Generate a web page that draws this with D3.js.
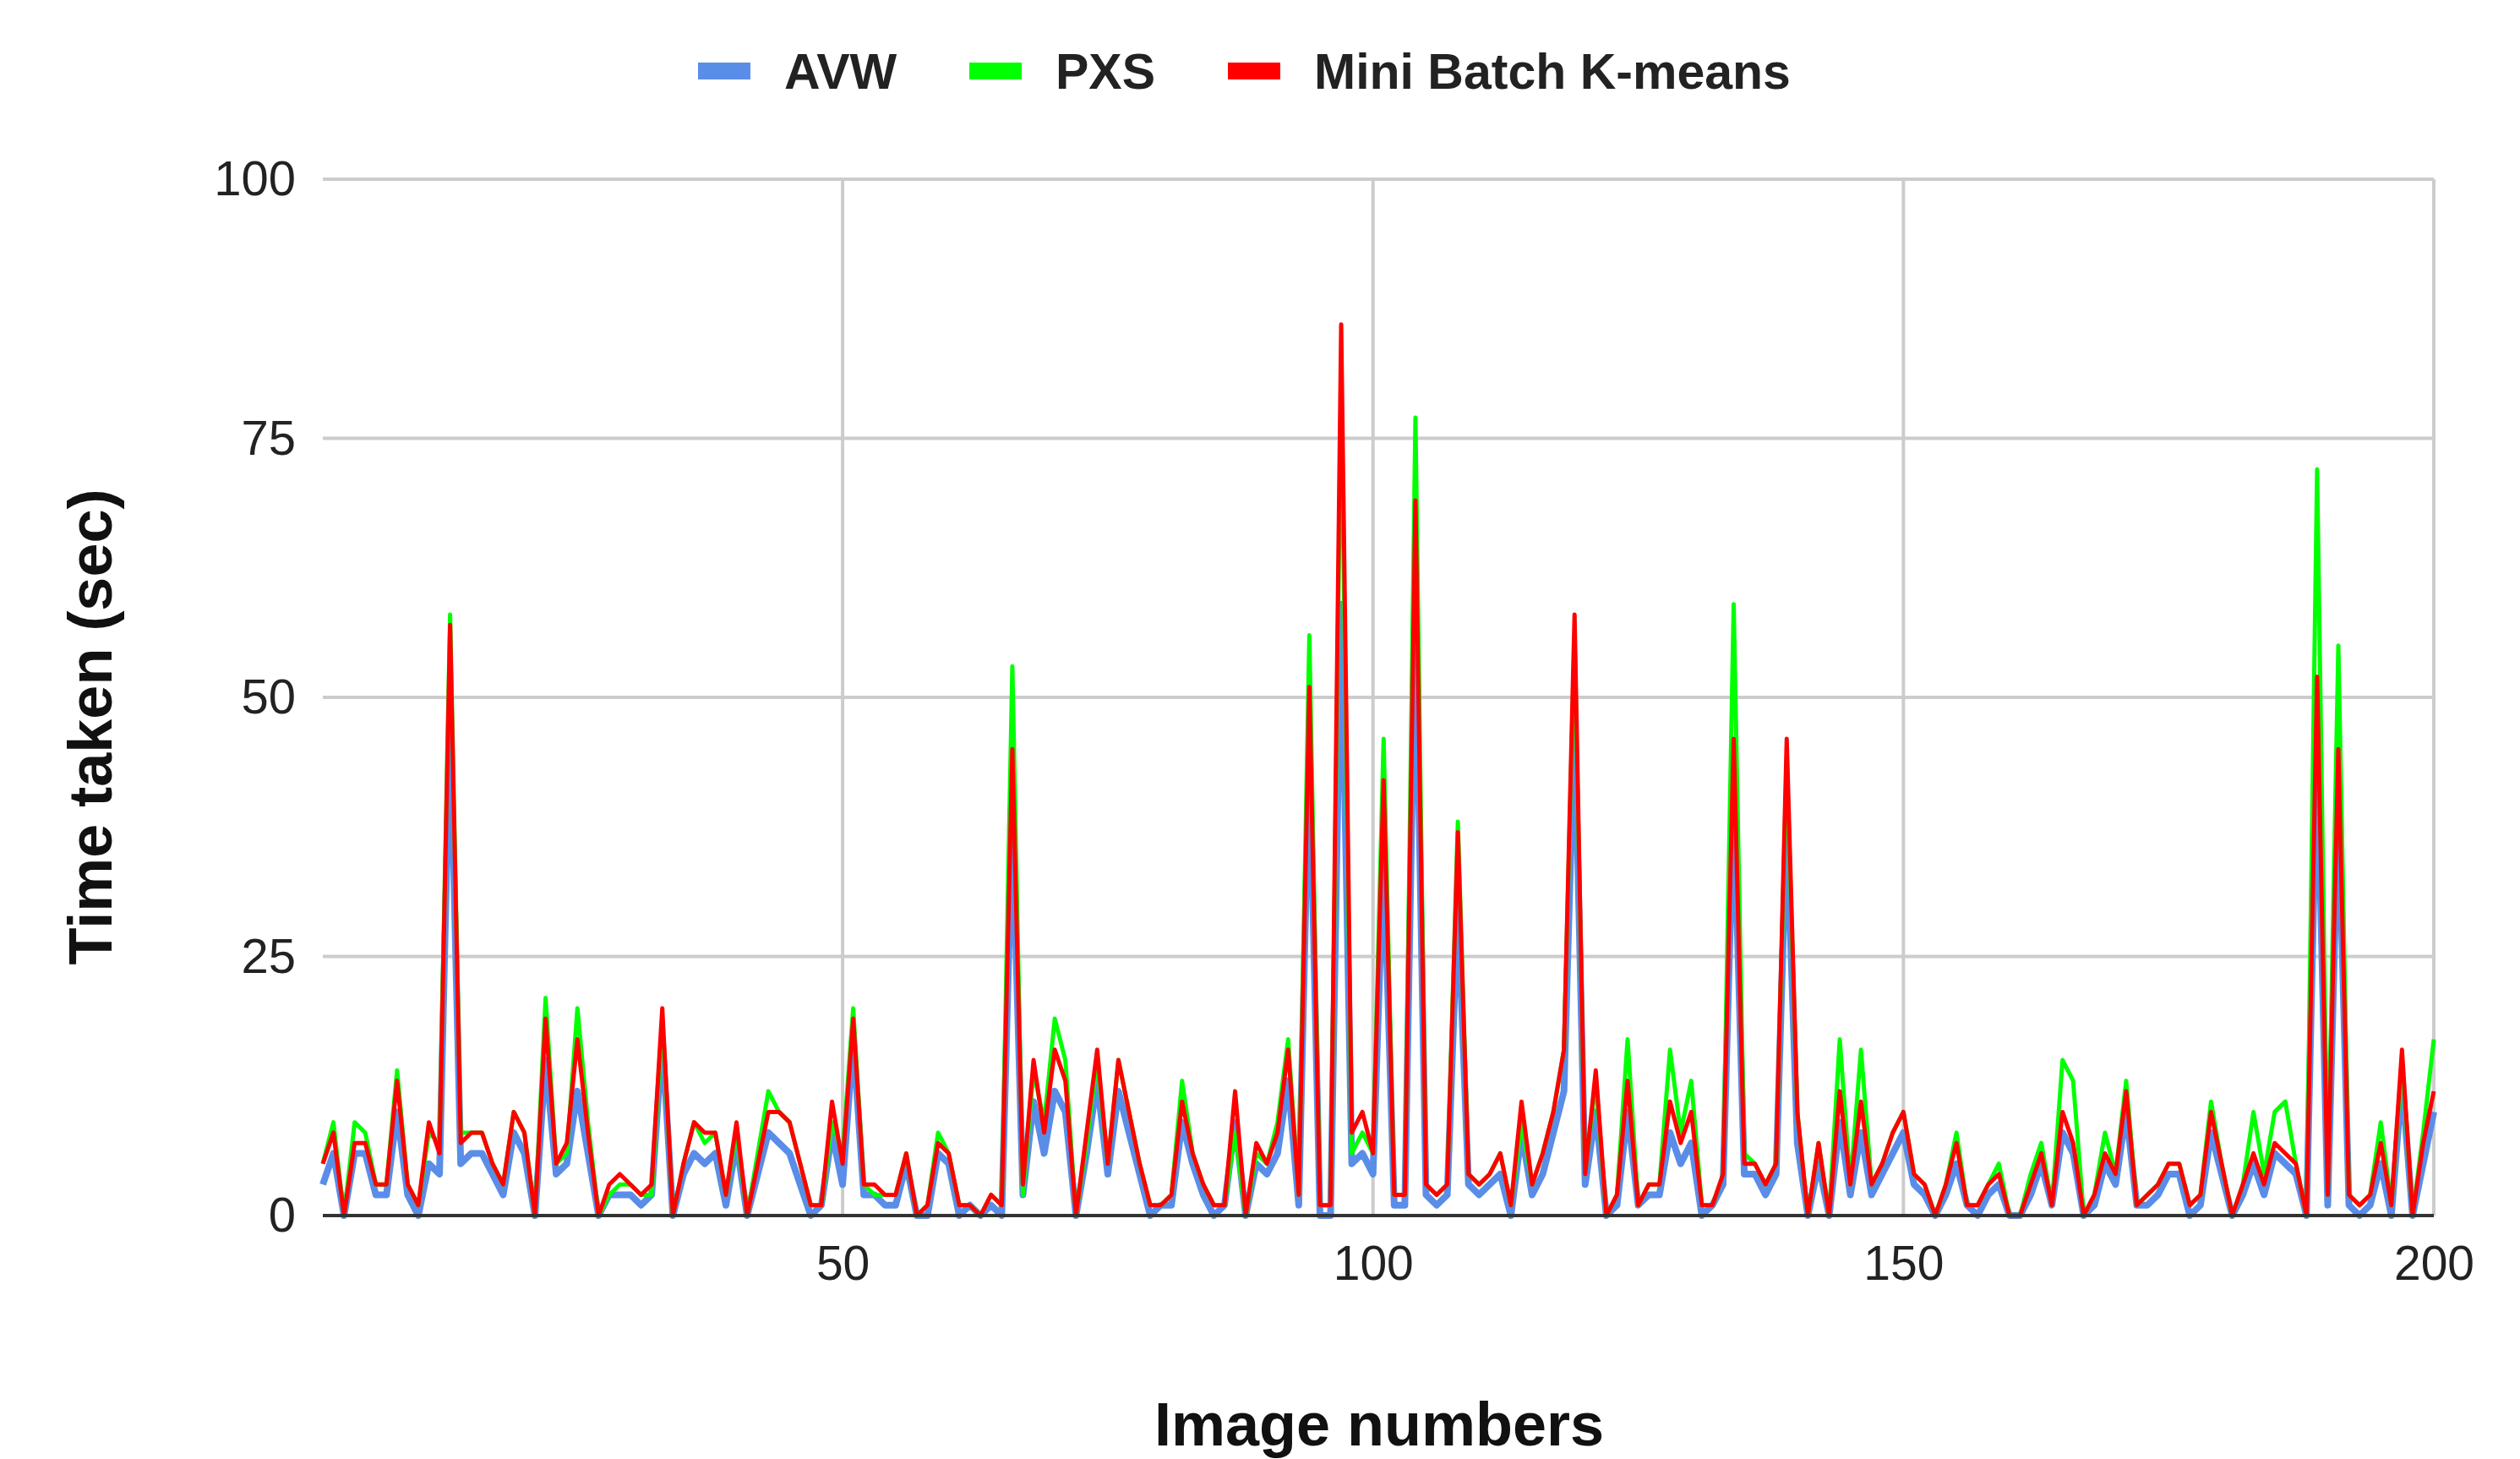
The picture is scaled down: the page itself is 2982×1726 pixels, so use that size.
<!DOCTYPE html>
<html><head><meta charset="utf-8">
<script src="https://cdn.jsdelivr.net/npm/d3@7"></script>
<style>body{margin:0;background:#fff}</style></head>
<body><svg id="c" width="2982" height="1726"></svg>
<script>
const seriesNames = ["AVW", "PXS", "Mini Batch K-means"];
const seriesColors = ["#5a8de8", "#00ff00", "#ff0000"];
const yTicks = [0, 25, 50, 75, 100];
const xTicks = [50, 100, 150, 200];
const avw = [3,6,0,6,6,2,2,10,2,0,5,4,48,5,6,6,4,2,8,6,
0,15,4,5,12,6,0,2,2,2,1,2,17,0,4,6,5,6,1,7,
0,4,8,7,6,3,0,1,8,3,17,2,2,1,1,5,0,0,6,5,
0,1,0,1,0,38,2,11,6,12,10,0,6,13,4,12,8,4,0,1,
1,9,5,2,0,1,9,0,5,4,6,13,1,45,0,0,59,5,6,4,
35,1,1,58,2,1,2,30,3,2,3,4,0,8,2,4,8,12,48,3,
10,0,1,10,1,2,2,8,5,7,0,1,3,40,4,4,2,4,38,7,
0,5,0,9,2,8,2,4,6,8,3,2,0,2,5,1,0,2,3,0,
0,2,5,1,8,6,0,1,5,3,10,1,1,2,4,4,0,1,8,4,
0,2,5,2,6,5,4,0,45,1,40,1,0,1,5,0,13,0,5,10];
const pxs = [5,9,0,9,8,3,3,14,3,1,8,7,58,8,8,8,5,3,10,8,
0,21,5,6,20,9,0,2,3,3,2,2,19,0,5,9,7,8,2,8,
0,6,12,10,9,5,1,1,9,6,20,3,2,2,2,6,0,1,8,6,
1,1,0,2,1,53,2,14,9,19,15,0,7,15,5,15,10,5,1,1,
2,13,6,3,1,1,8,0,6,5,9,17,2,56,1,1,80,6,8,6,
46,2,2,77,3,2,3,38,4,3,4,6,1,9,3,6,10,16,56,4,
13,0,2,17,1,3,3,16,8,13,1,1,4,59,6,5,3,5,44,10,
0,7,0,17,3,16,3,5,8,10,4,3,0,3,8,1,1,3,5,0,
0,4,7,1,15,13,0,2,8,4,13,1,2,3,5,5,1,2,11,5,
0,3,10,4,10,11,5,0,72,2,55,2,1,2,9,1,15,0,8,17];
const mbk = [5,8,0,7,7,3,3,13,3,1,9,6,57,7,8,8,5,3,10,8,
0,19,5,7,17,8,0,3,4,3,2,3,20,0,5,9,8,8,2,9,
0,5,10,10,9,5,1,1,11,5,19,3,3,2,2,6,0,1,7,6,
1,1,0,2,1,45,3,15,8,16,13,0,8,16,5,15,10,5,1,1,
2,11,6,3,1,1,12,0,7,5,8,16,2,51,1,1,86,8,10,6,
42,2,2,69,3,2,3,37,4,3,4,6,1,11,3,6,10,16,58,4,
14,0,2,13,1,3,3,11,7,10,1,1,4,46,5,5,3,5,46,10,
0,7,0,12,3,11,3,5,8,10,4,3,0,3,7,1,1,3,4,0,
0,3,6,1,10,7,0,2,6,4,12,1,2,3,5,5,1,2,10,5,
0,3,6,3,7,6,5,0,52,2,45,2,1,2,7,1,16,0,7,12];

const svg = d3.select("#c");
const L = 382, R = 2880, T = 212, B = 1438;
const x = d3.scaleLinear().domain([1, 200]).range([L, R]);
const y = d3.scaleLinear().domain([0, 100]).range([B, T]);
const font = "'Liberation Sans', Arial, sans-serif";

svg.append("g").selectAll("line").data(yTicks.filter(d => d > 0)).join("line")
  .attr("x1", L).attr("x2", R).attr("y1", d => y(d)).attr("y2", d => y(d))
  .attr("stroke", "#cccccc").attr("stroke-width", 4);
svg.append("g").selectAll("line").data(xTicks).join("line")
  .attr("x1", d => x(d)).attr("x2", d => x(d)).attr("y1", T).attr("y2", B)
  .attr("stroke", "#cccccc").attr("stroke-width", 4);

const yAxis = d3.axisLeft(y).tickValues(yTicks).tickSize(0).tickPadding(32);
const ya = svg.append("g").attr("transform", `translate(${L},0)`).call(yAxis);
ya.select(".domain").remove();
ya.selectAll("text").attr("font-family", font).attr("font-size", 58).attr("fill", "#222");
const xAxis = d3.axisBottom(x).tickValues(xTicks).tickSize(0).tickPadding(36);
const xa = svg.append("g").attr("transform", `translate(0,${B})`).call(xAxis);
xa.select(".domain").remove();
xa.selectAll("text").attr("font-family", font).attr("font-size", 57).attr("fill", "#222");

const line = d3.line().x((d, i) => x(i + 1)).y(d => y(d));
const data = [avw, pxs, mbk];
const widths = [8, 5, 5];
data.forEach((s, k) => {
  svg.append("path").datum(s).attr("d", line).attr("fill", "none")
    .attr("stroke", seriesColors[k]).attr("stroke-width", widths[k])
    .attr("stroke-linejoin", "round");
});

svg.append("line").attr("x1", L).attr("x2", R).attr("y1", B).attr("y2", B)
  .attr("stroke", "#333").attr("stroke-width", 4);

svg.append("text").attr("x", 1632).attr("y", 1710).attr("text-anchor", "middle")
  .attr("font-family", font).attr("font-weight", "bold").attr("font-size", 72).attr("fill", "#111")
  .text("Image numbers");
svg.append("text").attr("transform", `translate(132,860) rotate(-90)`)
  .attr("text-anchor", "middle").attr("font-family", font).attr("font-weight", "bold")
  .attr("font-size", 72).attr("fill", "#111").text("Time taken (sec)");

const legX = [826, 1147, 1453];
const lg = svg.append("g").selectAll("g").data(seriesNames).join("g")
  .attr("transform", (d, i) => `translate(${legX[i]},84)`);
lg.append("line").attr("x1", 0).attr("x2", 62).attr("y1", 0).attr("y2", 0)
  .attr("stroke", (d, i) => seriesColors[i]).attr("stroke-width", 20);
lg.append("text").attr("x", 102).attr("y", 21).attr("font-family", font)
  .attr("font-weight", "bold").attr("font-size", 59).attr("fill", "#222").text(d => d);
</script></body></html>
